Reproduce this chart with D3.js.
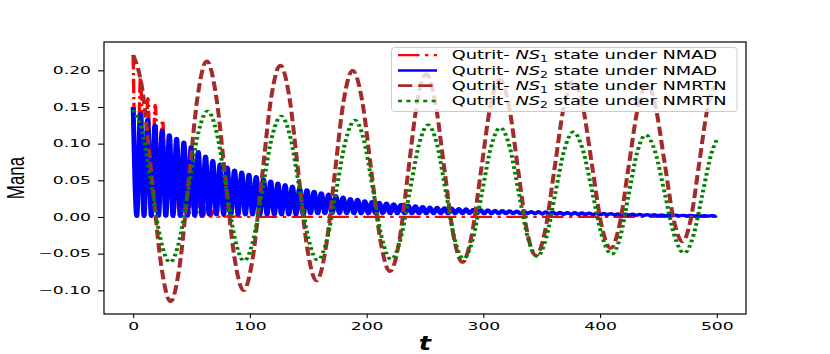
<!DOCTYPE html>
<html>
<head>
<meta charset="utf-8">
<script src="https://cdn.jsdelivr.net/npm/d3@7"></script>
<style>
  body { margin: 0; background: #fff; }
  svg { display: block; }
  text { font-family: "DejaVu Sans", sans-serif; fill: #000; }
</style>
</head>
<body>
<svg id="chart"></svg>
<script>
// Axis ticks
const xTicks = [0, 100, 200, 300, 400, 500];
const yTicks = [-0.10, -0.05, 0.00, 0.05, 0.10, 0.15, 0.20];

// Legend entries: prefix, italic part, subscript, suffix
const legendLabels = [
  ['Qutrit- ', 'NS', '1', ' state under NMAD'],
  ['Qutrit- ', 'NS', '2', ' state under NMAD'],
  ['Qutrit- ', 'NS', '1', ' state under NMRTN'],
  ['Qutrit- ', 'NS', '2', ' state under NMRTN']
];

// NS1 under NMAD (red, fast oscillation dying out)
const nmadNS1T = [0, 3.15, 6.3, 9.45, 12.6, 15.75, 18.9, 22.05, 25.2, 28.35, 31.5, 34.65, 37.8, 40.95, 44.1,
  47.25, 50.4, 53.55, 56.7, 59.85, 63, 66.15, 69.3, 72.45, 75.6, 78.75, 81.9, 85.05, 88.2, 91.35, 500];
const nmadNS1V = [0.221, 0, 0.190, 0, 0.162, 0, 0.153, 0, 0.132, 0, 0.095, 0, 0.065, 0, 0.045,
  0, 0.032, 0, 0.025, 0, 0.016, 0, 0.009, 0, 0.004, 0, 0.002, 0, 0.001, 0, 0];

// NS2 under NMAD (blue): oscillation maxima and minima
const nmadNS2PeakT = [0, 6.2, 12.4, 18.6, 24.8, 31, 37.2, 43.4, 49.6, 55.8, 62, 68.2, 74.4, 80.6, 86.8, 93,
  99.2, 105.4, 111.6, 117.8, 124, 130.2, 136.4, 142.6, 148.8, 155, 161.2, 167.4, 173.6, 179.8, 186, 192.2,
  198.4, 204.6, 210.8, 217, 223.2, 229.4, 235.6, 241.8, 248, 254.2, 260.4, 266.6, 272.8, 279, 285.2, 291.4,
  297.6, 303.8, 310, 316.2, 322.4, 328.6, 334.8, 341, 347.2, 353.4, 359.6, 365.8, 372, 378.2, 384.4, 390.6,
  396.8, 403, 409.2, 415.4, 421.6, 427.8, 434, 440.2, 446.4, 452.6, 458.8, 465, 471.2, 477.4, 483.6, 489.8, 496];
const nmadNS2PeakV = [0.150, 0.141, 0.133, 0.125, 0.118, 0.112, 0.107, 0.102, 0.096, 0.089, 0.083, 0.077,
  0.072, 0.068, 0.064, 0.061, 0.058, 0.055, 0.052, 0.049, 0.046, 0.044, 0.042, 0.039, 0.037, 0.035, 0.033,
  0.031, 0.029, 0.027, 0.025, 0.024, 0.022, 0.021, 0.020, 0.019, 0.018, 0.017, 0.016, 0.015, 0.014, 0.0135,
  0.013, 0.0125, 0.012, 0.0115, 0.011, 0.0105, 0.010, 0.0095, 0.009, 0.0087, 0.0083, 0.008, 0.0077, 0.0074,
  0.0071, 0.0068, 0.0065, 0.0062, 0.006, 0.0058, 0.0055, 0.0052, 0.005, 0.0048, 0.0045, 0.0043, 0.004,
  0.0038, 0.0035, 0.0033, 0.0031, 0.0029, 0.0027, 0.0025, 0.0023, 0.0021, 0.002, 0.0019, 0.0018];
const nmadNS2LowT = [3.1, 9.3, 15.5, 21.7, 27.9, 34.1, 40.3, 46.5, 52.7, 58.9, 65.1, 71.3, 77.5, 83.7, 89.9,
  96.1, 102.3, 108.5, 114.7, 120.9, 127.1, 133.3, 139.5, 145.7, 151.9, 158.1, 164.3, 170.5, 176.7, 182.9,
  189.1, 195.3, 201.5, 207.7, 213.9, 220.1, 226.3, 232.5, 238.7, 244.9, 251.1, 257.3, 263.5, 269.7, 275.9,
  282.1, 288.3, 294.5, 300.7, 306.9, 313.1, 319.3, 325.5, 331.7, 337.9, 344.1, 350.3, 356.5, 362.7, 368.9,
  375.1, 381.3, 387.5, 393.7, 399.9, 406.1, 412.3, 418.5, 424.7, 430.9, 437.1, 443.3, 449.5, 455.7, 461.9,
  468.1, 474.3, 480.5, 486.7, 492.9, 499.1, 500];
const nmadNS2LowV = [0.001, 0.001, 0.001, 0.001, 0.001, 0.001, 0.001, 0.001, 0.001, 0.001,
  0.003, 0.003, 0.003, 0.003, 0.003, 0.003, 0.003, 0.003, 0.003, 0.003, 0.003, 0.003, 0.003, 0.003,
  0.0045, 0.0045, 0.0045, 0.0045, 0.0045, 0.0045, 0.0045, 0.0045, 0.0045, 0.0045, 0.0045, 0.0045,
  0.0045, 0.0045, 0.0045, 0.0045, 0.0045, 0.0045, 0.0045, 0.0045, 0.0045, 0.0045, 0.0045, 0.0045,
  0.0045, 0.0045, 0.0045, 0.0045, 0.0045, 0.0045, 0.0045, 0.0045,
  0.004, 0.004, 0.0038, 0.0036, 0.0035, 0.0034, 0.0033, 0.0032, 0.0031, 0.003,
  0.0028, 0.0026, 0.0024, 0.0023, 0.0022, 0.002, 0.0019, 0.0018, 0.0017, 0.0016,
  0.0015, 0.0014, 0.0013, 0.0012, 0.0012, 0.0015];

// NS1 under NMRTN (brown dashed)
const rtnNS1T = [0, 8, 16, 24, 32, 39.75, 47.5, 55.25, 63, 70.9, 78.8, 86.7, 94.6, 102.45, 110.3, 118.15, 126,
  133.75, 141.5, 149.25, 157, 164.75, 172.5, 180.25, 188, 196, 204, 212, 220, 227.75, 235.5, 243.25, 251,
  258.75, 266.5, 274.25, 282, 290, 298, 306, 314, 321.75, 329.5, 337.25, 345, 353, 361, 369, 377,
  385, 393, 401, 409, 416.75, 424.5, 432.25, 440, 447.65, 455.3, 462.95, 470.6, 477.7, 484.8, 491.9, 499, 500];
const rtnNS1V = [0.221, 0.172, 0.053, -0.066, -0.1155, -0.067, 0.049, 0.165, 0.213, 0.167, 0.056, -0.0546,
  -0.1005, -0.0555, 0.053, 0.162, 0.207, 0.164, 0.060, -0.044, -0.0873, -0.045, 0.056, 0.158, 0.200,
  0.160, 0.063, -0.034, -0.0745, -0.035, 0.060, 0.156, 0.195, 0.157, 0.0665, -0.024, -0.062,
  -0.025, 0.063, 0.151, 0.188, 0.153, 0.0675, -0.018, -0.053, -0.018, 0.0665, 0.151, 0.186,
  0.1525, 0.0715, -0.0095, -0.043, -0.010, 0.069, 0.148, 0.181, 0.1495, 0.0735, -0.0025, -0.034,
  -0.003, 0.072, 0.147, 0.178, 0.178];

// NS2 under NMRTN (green dotted)
const rtnNS2T = [0, 7.9, 15.75, 23.6, 31.5, 39.6, 47.65, 55.7, 63.8, 71.6, 79.4, 87.2, 95, 102.95, 110.9,
  118.85, 126.8, 134.6, 142.4, 150.2, 158, 166, 174, 182, 190, 197.75, 205.5, 213.25, 221, 228.9, 236.85,
  244.8, 252.7, 260.3, 267.85, 275.4, 283, 290.9, 298.75, 306.6, 314.5, 322.4, 330.25, 338.1, 346,
  353.75, 361.5, 369.25, 377, 385.25, 393.5, 401.75, 410, 417.25, 424.5, 431.75, 439, 447.25, 455.5,
  463.75, 472, 479.75, 487.5, 495.25, 500];
const rtnNS2V = [0.146, 0.1155, 0.042, -0.0315, -0.062, -0.0318, 0.041, 0.114, 0.1445, 0.1146, 0.0423,
  -0.030, -0.060, -0.031, 0.0389, 0.1088, 0.1377, 0.1089, 0.0394, -0.0302, -0.059, -0.031, 0.0365, 0.104,
  0.132, 0.1042, 0.037, -0.0302, -0.058, -0.0311, 0.0338, 0.0986, 0.1255, 0.0988, 0.0343, -0.0303, -0.057,
  -0.0308, 0.0325, 0.0958, 0.122, 0.0962, 0.034, -0.0282, -0.054, -0.029, 0.031, 0.091, 0.116,
  0.0915, 0.0325, -0.0265, -0.051, -0.0271, 0.0305, 0.0881, 0.112, 0.0884, 0.0313, -0.0258, -0.0495,
  -0.0263, 0.0298, 0.0859, 0.1055];

// Chart dimensions
const width = 830;
const height = 354;
const plotLeft = 104, plotRight = 746, plotTop = 42, plotBottom = 314;
const stretch = 1.5; // the reference is drawn horizontally stretched

const svg = d3.select('#chart')
  .attr('width', width)
  .attr('height', height);

// Scales
const xScale = d3.scaleLinear().domain([-25, 525]).range([plotLeft, plotRight]);
const xInner = d3.scaleLinear().domain([-25, 525]).range([0, (plotRight - plotLeft) / stretch]);
const yScale = d3.scaleLinear().domain([-0.1323, 0.2386]).range([plotBottom, plotTop]);

svg.append('defs').append('clipPath').attr('id', 'clip')
  .append('rect')
  .attr('x', 0).attr('y', plotTop)
  .attr('width', (plotRight - plotLeft) / stretch).attr('height', plotBottom - plotTop);

// Series (w = stroke in plot, lw = stroke in legend)
const series = [
  { data: d3.zip(nmadNS1T, nmadNS1V), color: '#ff0000', w: 2.25, lw: 2.25, dash: '14.4,3.6,2.25,3.6' },
  { data: d3.sort(d3.zip(nmadNS2PeakT, nmadNS2PeakV).concat(d3.zip(nmadNS2LowT, nmadNS2LowV)), d => d[0]),
    color: '#0000ff', w: 3.3, lw: 2.7, dash: null },
  { data: d3.zip(rtnNS1T, rtnNS1V), color: '#a52a2a', w: 2.7, lw: 2.7, dash: '9.5,4' },
  { data: d3.zip(rtnNS2T, rtnNS2V), color: '#008000', w: 2.7, lw: 2.7, dash: '2.7,2.9' }
];

const line = d3.line()
  .x(d => xInner(d[0]))
  .y(d => yScale(d[1]))
  .curve(d3.curveMonotoneX);

const plot = svg.append('g')
  .attr('transform', `translate(${plotLeft},0) scale(${stretch},1)`)
  .append('g')
  .attr('clip-path', 'url(#clip)');

plot.selectAll('.series')
  .data(series)
  .enter().append('path')
  .attr('class', 'series')
  .attr('d', d => line(d.data))
  .attr('fill', 'none')
  .attr('stroke', d => d.color)
  .attr('stroke-width', d => d.w)
  .attr('stroke-dasharray', d => d.dash)
  .attr('stroke-linejoin', 'round');

// Axes
const tickScale = 1.72;
const xAxis = d3.axisBottom(xScale).tickValues(xTicks).tickSize(4).tickPadding(5).tickFormat(d3.format('d'));
const gx = svg.append('g')
  .attr('transform', `translate(0,${plotBottom})`)
  .call(xAxis);
gx.select('.domain').remove();
gx.selectAll('line').attr('stroke', '#000').attr('stroke-width', 1.1);
gx.selectAll('text')
  .attr('font-size', 10)
  .attr('font-family', 'DejaVu Sans')
  .attr('transform', `scale(${tickScale},1)`);

const yAxis = d3.axisLeft(yScale).tickValues(yTicks).tickSize(6).tickPadding(7).tickFormat(d3.format('.2f'));
const gy = svg.append('g')
  .attr('transform', `translate(${plotLeft},0)`)
  .call(yAxis);
gy.select('.domain').remove();
gy.selectAll('line').attr('stroke', '#000').attr('stroke-width', 1.1);
gy.selectAll('text')
  .attr('font-size', 10)
  .attr('font-family', 'DejaVu Sans')
  .attr('x', -13 / tickScale)
  .attr('transform', `scale(${tickScale},1)`);

// Frame
svg.append('rect')
  .attr('x', plotLeft).attr('y', plotTop)
  .attr('width', plotRight - plotLeft).attr('height', plotBottom - plotTop)
  .attr('fill', 'none').attr('stroke', '#000').attr('stroke-width', 1.2);

// Axis labels
svg.append('g')
  .attr('transform', 'translate(24,178) scale(1.45,1) rotate(-90)')
  .append('text')
  .attr('text-anchor', 'middle')
  .style('font-family', '"Liberation Sans", Arial, sans-serif')
  .attr('font-size', 17)
  .text('Mana');

svg.append('g')
  .attr('transform', 'translate(425,350) scale(1.35,1)')
  .append('text')
  .attr('text-anchor', 'middle')
  .attr('font-size', 19)
  .attr('font-weight', 'bold')
  .attr('font-style', 'italic')
  .text('t');

// Legend
const legend = svg.append('g');
legend.append('rect')
  .attr('x', 391.5).attr('y', 47.5)
  .attr('width', 345.5).attr('height', 64)
  .attr('rx', 3)
  .attr('fill', '#fff').attr('fill-opacity', 0.8)
  .attr('stroke', '#cccccc').attr('stroke-width', 1);

const rowY = [55, 70.5, 85.7, 101];
const handles = legend.append('g').attr('transform', `scale(${stretch},1)`);
series.forEach((s, i) => {
  handles.append('line')
    .attr('x1', 398 / stretch).attr('x2', 437 / stretch)
    .attr('y1', rowY[i]).attr('y2', rowY[i])
    .attr('stroke', s.color)
    .attr('stroke-width', s.lw)
    .attr('stroke-dasharray', s.dash);
});

const legendTexts = legendLabels.map((lab, i) => {
  const g = legend.append('g');
  const t = g.append('text').attr('font-size', 12.3).attr('y', 0);
  t.append('tspan').text(lab[0]);
  t.append('tspan').attr('font-style', 'italic').text(lab[1]);
  t.append('tspan').attr('font-size', 8.6).attr('dy', 2.6).text(lab[2]);
  t.append('tspan').attr('dy', -2.6).text(lab[3]);
  return { g, t, y: rowY[i] + 4.4 };
});
const natural = legendTexts[2].t.node().getBBox().width;
const legendScale = 275 / natural;
legendTexts.forEach(d => {
  d.g.attr('transform', `translate(451.7,${d.y}) scale(${legendScale},1)`);
});
</script>
</body>
</html>
